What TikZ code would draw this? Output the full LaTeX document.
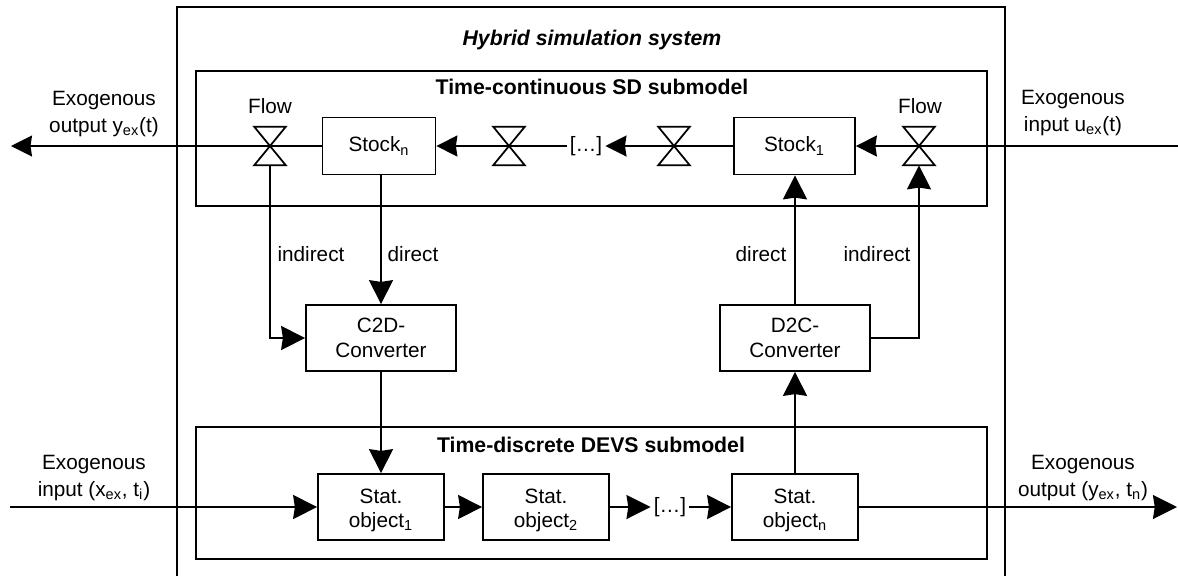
\documentclass[tikz,border=0pt]{standalone}
\usepackage{fontspec}
\setmainfont{Liberation Sans}
\usetikzlibrary{arrows.meta}
\tikzset{
  line/.style={line width=1pt},
  arr/.style={line, -{Stealth[length=0.42cm,width=0.42cm,inset=0.03cm]}},
  arrbig/.style={line, -{Stealth[length=0.48cm,width=0.48cm,inset=0.035cm]}},
  blockbox/.style={draw, line width=1pt, align=center, inner sep=0pt},
  stockbox/.style={blockbox, minimum height=1.14cm},
  convbox/.style={blockbox, minimum width=3cm, minimum height=1.32cm},
  statbox/.style={blockbox, minimum width=2.52cm, minimum height=1.32cm},
  valvebox/.style={inner sep=0pt, minimum width=0.62cm, minimum height=0.76cm},
  lbl/.style={align=center, inner sep=0pt},
  dots/.style={lbl, inner xsep=0.06cm},
  titlelbl/.style={lbl, font=\fontsize{12.1}{14}\selectfont\bfseries}
}
\newcommand{\valve}[2]{
\node[valvebox] (#1) at (#2) {};
\draw[line] (#1.north west) -- (#1.south east) -- (#1.south west) -- (#1.north east) -- cycle;
}
\newcommand{\sbs}[1]{\textsubscript{#1}}
\newcommand{\statup}{\rule{0pt}{12pt}}
\begin{document}
\begin{tikzpicture}[x=0.02cm,y=-0.02cm,font=\fontsize{11.8}{14}\selectfont]
\useasboundingbox (0,0) rectangle (1178,576);

% frames
\draw[line width=0.75pt] (177,576) -- (177,7) -- (1005,7) -- (1005,576);
\draw[line] (196,71) rectangle (987,206);
\draw[line] (196,427) rectangle (987,559);
\node[titlelbl] (title) at (592,40) {\itshape Hybrid simulation system};
\node[titlelbl] (sdtitle) at (592,87) {Time-continuous SD submodel};
\node[titlelbl] (devstitle) at (591,445) {Time-discrete DEVS submodel};

% top row
\node[stockbox,minimum width=2.26cm] (stockn) at (379,146) {Stock\sbs{n}};
\node[stockbox,minimum width=2.42cm] (stockone) at (794.5,146) {Stock\sbs{1}};
\node[dots] (dotstop) at (586,146) {[…]};
\coordinate (outy) at (11,146);
\coordinate (inu) at (1178,146);
\draw[arr] (stockn.west) -- (outy);
\draw[arr] (inu) -- (stockone.east);
\draw[arr] (dotstop.west) -- (stockn.east);
\draw[arr] (stockone.west) -- (dotstop.east);
\valve{flown}{270,146}
\valve{valvea}{509,146}
\valve{valveb}{674,146}
\valve{flowone}{919,146}
\node[lbl] (flownlbl) at (270,106) {Flow};
\node[lbl] (flowonelbl) at (920,106) {Flow};
\node[lbl] (outylbl) at (104,114) {Exogenous\\[1.1pt]output y\sbs{ex}(t)};
\node[lbl] (inulbl) at (1073,113) {Exogenous\\[1.1pt]input u\sbs{ex}(t)};

% converters
\node[convbox] (ctod) at (381,338) {C2D-\\Converter};
\node[convbox] (dtoc) at (795,338) {D2C-\\Converter};
\draw[arrbig] (flown.south) -- (flown.south |- ctod.west) -- (ctod.west);
\draw[arrbig] (ctod.north |- stockn.south) -- (ctod.north);
\draw[arrbig] (dtoc.east) -- (dtoc.east -| flowone.south) -- (flowone.south);
\draw[arrbig] (dtoc.north) -- (dtoc.north |- stockone.south);
\node[lbl] (indleft) at (311,254) {indirect};
\node[lbl] (dirleft) at (413,254) {direct};
\node[lbl] (dirright) at (761,254) {direct};
\node[lbl] (indright) at (877,254) {indirect};

% bottom row
\node[statbox] (statone) at (381,507) {\statup Stat.\\object\sbs{1}};
\node[statbox] (stattwo) at (546,507) {\statup Stat.\\object\sbs{2}};
\node[statbox] (statn) at (795,507) {\statup Stat.\\object\sbs{n}};
\node[dots] (dotsbot) at (670,507) {[…]};
\coordinate (inx) at (10,507);
\coordinate (outyd) at (1177,507);
\draw[arrbig] (inx) -- (statone.west);
\draw[arrbig] (statone.east) -- (stattwo.west);
\draw[arrbig] (stattwo.east) -- (dotsbot.west);
\draw[arrbig] (dotsbot.east) -- (statn.west);
\draw[arrbig] (statn.east) -- (outyd);
\draw[arrbig] (ctod.south) -- (statone.north);
\draw[arrbig] (statn.north) -- (dtoc.south);
\node[lbl] (inxlbl) at (94,478) {Exogenous\\[1.1pt]input (x\sbs{ex}, t\sbs{i})};
\node[lbl] (outydlbl) at (1083,478) {Exogenous\\[1.1pt]output (y\sbs{ex}, t\sbs{n})};

\end{tikzpicture}
\end{document}
